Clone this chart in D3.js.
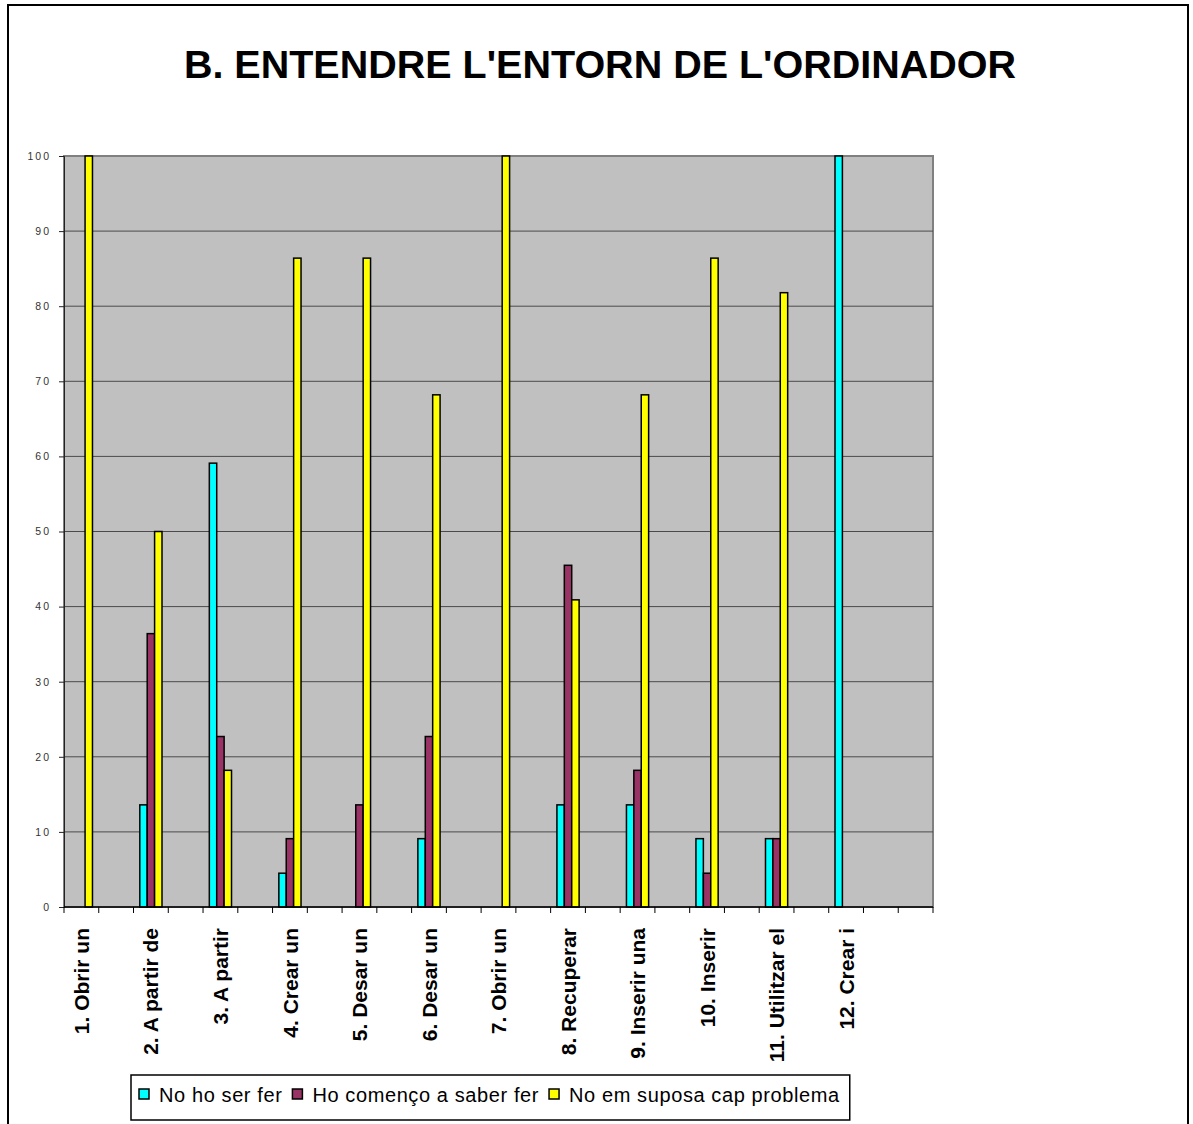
<!DOCTYPE html>
<html>
<head>
<meta charset="utf-8">
<script src="https://cdn.jsdelivr.net/npm/d3@7"></script>
<style>
  body { margin: 0; background: #fff; }
  svg { display: block; }
</style>
</head>
<body>
<div id="io"></div>
<script>
const TITLE = "B. ENTENDRE L'ENTORN DE L'ORDINADOR";
const CATEGORIES = ['1. Obrir un', '2. A partir de', '3. A partir', '4. Crear un', '5. Desar un',
  '6. Desar un', '7. Obrir un', '8. Recuperar', '9. Inserir una', '10. Inserir',
  '11. Utilitzar el', '12. Crear i'];
const SERIES = ['No ho ser fer', 'Ho començo a saber fer', 'No em suposa cap problema'];
const NO_SAP = [0, 13.6, 59.1, 4.5, 0, 9.1, 0, 13.6, 13.6, 9.1, 9.1, 100];
const COMENCA = [0, 36.4, 22.7, 9.1, 13.6, 22.7, 0, 45.5, 18.2, 4.5, 9.1, 0];
const CAP_PROBLEMA = [100, 50, 18.2, 86.4, 86.4, 68.2, 100, 40.9, 68.2, 86.4, 81.8, 0];
const Y_TICKS = [0, 10, 20, 30, 40, 50, 60, 70, 80, 90, 100];
const COLORS = ['#00ffff', '#993366', '#ffff00'];

const W = 1193, H = 1124;
const pL = 64, pR = 933, pT = 156, pB = 907;

const svg = d3.select('#io').append('svg').attr('width', W).attr('height', H);

// outer chart border
svg.append('rect').attr('x', 8).attr('y', 5).attr('width', 1180).attr('height', 1140)
  .attr('fill', '#fff').attr('stroke', '#000').attr('stroke-width', 2);

svg.append('text').attr('x', 600).attr('y', 78).attr('text-anchor', 'middle')
  .style('font', 'bold 39.5px "Liberation Sans", Arial, sans-serif').text(TITLE);

// the original sheet had an empty row between every item: 25 slots, items on the even ones
const slots = d3.range(CATEGORIES.length * 2 + 1);
const x0 = d3.scaleBand().domain(slots).range([pL, pR]).padding(0);
const x1 = d3.scaleBand().domain(d3.range(SERIES.length)).range([0, x0.bandwidth()])
  .paddingInner(0).paddingOuter(0.85);
const y = d3.scaleLinear().domain([0, 100]).range([pB, pT]);

svg.append('rect').attr('x', pL).attr('y', pT).attr('width', pR - pL).attr('height', pB - pT)
  .attr('fill', '#c0c0c0').attr('stroke', '#808080').attr('stroke-width', 2);

svg.append('g').selectAll('line').data(Y_TICKS.filter(d => d > 0 && d < 100)).enter().append('line')
  .attr('x1', pL).attr('x2', pR).attr('y1', d => y(d)).attr('y2', d => y(d))
  .attr('stroke', '#4a4a4a').attr('stroke-width', 1);

const yAxis = svg.append('g').attr('transform', `translate(${pL},0)`)
  .call(d3.axisLeft(y).tickValues(Y_TICKS).tickSize(5).tickPadding(8));
yAxis.select('.domain').attr('stroke', '#222');
yAxis.selectAll('.tick line').attr('stroke', '#222');
yAxis.selectAll('text').style('font', '10.5px "Liberation Sans", Arial, sans-serif')
  .style('letter-spacing', '2px').attr('fill', '#333');

const table = CATEGORIES.map((c, i) => ({
  slot: i * 2, label: c, values: [NO_SAP[i], COMENCA[i], CAP_PROBLEMA[i]]
}));

const groups = svg.append('g').selectAll('g').data(table).enter().append('g')
  .attr('transform', d => `translate(${x0(d.slot)},0)`);
groups.selectAll('rect')
  .data(d => d.values.map((v, s) => ({ s: s, v: v })).filter(e => e.v > 0))
  .enter().append('rect')
  .attr('x', e => x1(e.s)).attr('width', x1.bandwidth())
  .attr('y', e => y(e.v)).attr('height', e => y(0) - y(e.v))
  .style('fill', e => COLORS[e.s]).attr('stroke', '#000').attr('stroke-width', 1.5);

// bottom axis: tick at each slot boundary
const bx = svg.append('g');
bx.append('line').attr('x1', pL).attr('x2', pR).attr('y1', pB).attr('y2', pB)
  .attr('stroke', '#000').attr('stroke-width', 1.5);
bx.selectAll('.tk').data(slots.concat([slots.length])).enter().append('line')
  .attr('x1', d => pL + d * x0.step()).attr('x2', d => pL + d * x0.step())
  .attr('y1', pB).attr('y2', pB + 6).attr('stroke', '#000');

svg.append('g').selectAll('text').data(table).enter().append('text')
  .attr('transform', d => `translate(${x0(d.slot) + x0.bandwidth() / 2},928) rotate(-90)`)
  .attr('text-anchor', 'end').attr('dy', '0.36em')
  .style('font', 'bold 21px "Liberation Sans", Arial, sans-serif').text(d => d.label);

// legend
const lg = svg.append('g');
const lgBox = lg.append('rect').attr('x', 131).attr('y', 1075).attr('height', 45)
  .attr('fill', '#fff').attr('stroke', '#000').attr('stroke-width', 1.5);
let cx = 139;
SERIES.forEach((s, i) => {
  lg.append('rect').attr('x', cx).attr('y', 1089).attr('width', 10).attr('height', 10)
    .attr('fill', COLORS[i]).attr('stroke', '#000').attr('stroke-width', 1.5);
  const t = lg.append('text').attr('x', cx + 20).attr('y', 1102)
    .style('font', '20px "Liberation Sans", Arial, sans-serif')
    .style('letter-spacing', '0.6px').text(s);
  cx += 20 + t.node().getComputedTextLength() + 10;
});
lgBox.attr('width', cx - 131);
</script>
</body>
</html>
